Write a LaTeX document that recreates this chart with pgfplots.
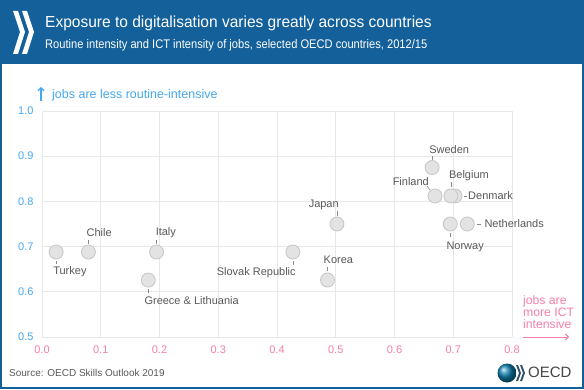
\documentclass[border=0pt]{standalone}
\usepackage{pgfplots}
\pgfplotsset{compat=1.18}
\usetikzlibrary{arrows.meta}
\usepackage{fontspec}
\setmainfont{Liberation Sans}
\newfontfamily\titlefont[FakeStretch=0.97]{Liberation Sans}
\newfontfamily\subfont[FakeStretch=0.89]{Liberation Sans}
\definecolor{oecdblue}{HTML}{13609A}
\definecolor{tickblue}{HTML}{45A8F0}
\definecolor{tickpink}{HTML}{F57FAB}
\definecolor{labgray}{HTML}{595959}
\definecolor{gridgray}{HTML}{E8E8E8}
\definecolor{markfill}{HTML}{E3E3E3}
\definecolor{markdraw}{HTML}{C6C6C6}
\definecolor{logogray}{HTML}{454545}
\begin{document}
\begin{tikzpicture}[x=1pt,y=1pt]
\fill[oecdblue] (0,0) rectangle (584,389);
\fill[white] (2,2) rectangle (582,325);
% chevrons
\fill[white] (13,378) -- (18,378) -- (25,357) -- (18,335) -- (13,335) -- (20,357) -- cycle;
\fill[white] (22,378) -- (27,378) -- (34,357) -- (27,335) -- (22,335) -- (29,357) -- cycle;
\node[anchor=base west, inner sep=0, text=white, font=\titlefont\fontsize{16}{18}\selectfont] at (45,361) {Exposure to digitalisation varies greatly across countries};
\node[anchor=base west, inner sep=0, text=white, font=\subfont\fontsize{12.5}{14}\selectfont] at (45,340) {Routine intensity and ICT intensity of jobs, selected OECD countries, 2012/15};

\begin{axis}[
  at={(42pt,52pt)}, anchor=south west,
  scale only axis, width=470pt, height=226pt,
  xmin=0, xmax=0.8, ymin=0.5, ymax=1.0,
  xtick={0,0.1,0.2,0.3,0.4,0.5,0.6,0.7,0.8},
  ytick={0.5,0.6,0.7,0.8,0.9,1.0},
  /pgf/number format/assume math mode=true,
  xticklabel style={/pgf/number format/.cd, fixed, fixed zerofill, precision=1, /tikz/.cd, text=tickpink, font=\fontsize{11}{13}\selectfont, yshift=-5pt},
  yticklabel style={/pgf/number format/.cd, fixed, fixed zerofill, precision=1, /tikz/.cd, text=tickblue, font=\fontsize{11}{13}\selectfont, xshift=-5pt},
  major tick length=0pt,
  axis line style={draw=none},
  grid=major,
  major grid style={gridgray, line width=0.8pt},
  clip=false,
]
\addplot[only marks, mark=*, mark size=7pt, mark options={fill=markfill, draw=markdraw, line width=0.8pt}] coordinates {
(0.024,0.688) (0.079,0.688) (0.195,0.688) (0.181,0.626) (0.427,0.688)
(0.486,0.626) (0.502,0.750) (0.664,0.875) (0.669,0.812) (0.703,0.812)
(0.696,0.812) (0.695,0.750) (0.724,0.750)
};
\tikzset{lab/.style={inner sep=0, text=labgray, font=\fontsize{11}{13}\selectfont}, ld/.style={draw=labgray!70, line width=0.6pt}}
% Turkey
\draw[ld] ([shift={(0pt,-9pt)}]axis cs:0.024,0.688) -- ([shift={(0pt,-12pt)}]axis cs:0.024,0.688);
\node[lab, anchor=west] at ([shift={(-3pt,-20pt)}]axis cs:0.024,0.688) {Turkey};
% Chile
\draw[ld] ([shift={(0pt,8pt)}]axis cs:0.079,0.688) -- ([shift={(0pt,12pt)}]axis cs:0.079,0.688);
\node[lab, anchor=west] at ([shift={(-2pt,19pt)}]axis cs:0.079,0.688) {Chile};
% Italy
\draw[ld] ([shift={(0pt,8pt)}]axis cs:0.195,0.688) -- ([shift={(0pt,12pt)}]axis cs:0.195,0.688);
\node[lab, anchor=west] at ([shift={(-1pt,19pt)}]axis cs:0.195,0.688) {Italy};
% Greece
\draw[ld] ([shift={(0pt,-9pt)}]axis cs:0.181,0.626) -- ([shift={(0pt,-13pt)}]axis cs:0.181,0.626);
\node[lab, anchor=west] at ([shift={(-4pt,-21pt)}]axis cs:0.181,0.626) {Greece \& Lithuania};
% Slovak
\draw[ld] ([shift={(0pt,-9pt)}]axis cs:0.427,0.688) -- ([shift={(0pt,-13pt)}]axis cs:0.427,0.688);
\node[lab, anchor=east] at ([shift={(3pt,-21pt)}]axis cs:0.427,0.688) {Slovak Republic};
% Korea
\draw[ld] ([shift={(0pt,9pt)}]axis cs:0.486,0.626) -- ([shift={(0pt,13pt)}]axis cs:0.486,0.626);
\node[lab, anchor=west] at ([shift={(-4pt,20pt)}]axis cs:0.486,0.626) {Korea};
% Japan
\draw[ld] ([shift={(0pt,8pt)}]axis cs:0.502,0.750) -- ([shift={(0pt,13pt)}]axis cs:0.502,0.750);
\node[lab, anchor=east] at ([shift={(2pt,19pt)}]axis cs:0.502,0.750) {Japan};
% Sweden
\draw[ld] ([shift={(0pt,8pt)}]axis cs:0.664,0.875) -- ([shift={(0pt,12pt)}]axis cs:0.664,0.875);
\node[lab, anchor=west] at ([shift={(-3pt,18pt)}]axis cs:0.664,0.875) {Sweden};
% Finland
\draw[ld] ([shift={(-8pt,10pt)}]axis cs:0.669,0.812) -- ([shift={(-5pt,6pt)}]axis cs:0.669,0.812);
\node[lab, anchor=east] at ([shift={(-6pt,14pt)}]axis cs:0.669,0.812) {Finland};
% Belgium
\draw[ld] ([shift={(0pt,9pt)}]axis cs:0.696,0.812) -- ([shift={(0pt,14pt)}]axis cs:0.696,0.812);
\node[lab, anchor=west] at ([shift={(-2pt,20pt)}]axis cs:0.696,0.812) {Belgium};
% Denmark
\draw[ld] ([shift={(9pt,0pt)}]axis cs:0.703,0.812) -- ([shift={(12pt,0pt)}]axis cs:0.703,0.812);
\node[lab, anchor=west] at ([shift={(13pt,0pt)}]axis cs:0.703,0.812) {Denmark};
% Netherlands
\draw[ld] ([shift={(10pt,0pt)}]axis cs:0.724,0.750) -- ([shift={(14pt,0pt)}]axis cs:0.724,0.750);
\node[lab, anchor=west] at ([shift={(17pt,0pt)}]axis cs:0.724,0.750) {Netherlands};
% Norway
\draw[ld] ([shift={(0pt,-9pt)}]axis cs:0.695,0.750) -- ([shift={(0pt,-13pt)}]axis cs:0.695,0.750);
\node[lab, anchor=west] at ([shift={(-4pt,-23pt)}]axis cs:0.695,0.750) {Norway};
\end{axis}

% axis annotations
\draw[tickblue, line width=1.2pt, -{Straight Barb[length=3pt,width=6pt]}] (41,288) -- (41,302);
\node[anchor=west, inner sep=0, text=tickblue, font=\fontsize{12.5}{14}\selectfont] at (52,294) {jobs are less routine-intensive};
\node[anchor=west, inner sep=0, text=tickpink, font=\fontsize{12.2}{14}\selectfont] at (523,88) {jobs are};
\node[anchor=west, inner sep=0, text=tickpink, font=\fontsize{12.2}{14}\selectfont] at (523,76.5) {more ICT};
\node[anchor=west, inner sep=0, text=tickpink, font=\fontsize{12.2}{14}\selectfont] at (523,65) {intensive};
\draw[tickpink, line width=1pt, -{Straight Barb[length=3pt,width=6pt]}] (523,52) -- (569,52);

% footer
\node[anchor=west, inner sep=0, text=labgray, font=\fontsize{10}{12}\selectfont] at (9,16) {Source: OECD Skills Outlook 2019};
\shade[ball color=oecdblue!80!cyan] (507,16) circle (9.5);
\fill[logogray!60!oecdblue] (516,24) -- (518,24) -- (521,16) -- (518,8) -- (516,8) -- (519,16) -- cycle;
\fill[logogray!60!oecdblue] (520,24) -- (522,24) -- (525,16) -- (522,8) -- (520,8) -- (523,16) -- cycle;
\node[anchor=west, inner sep=0, text=logogray, font=\fontsize{15}{17}\selectfont] at (528,16.5) {OECD};
\end{tikzpicture}
\end{document}
